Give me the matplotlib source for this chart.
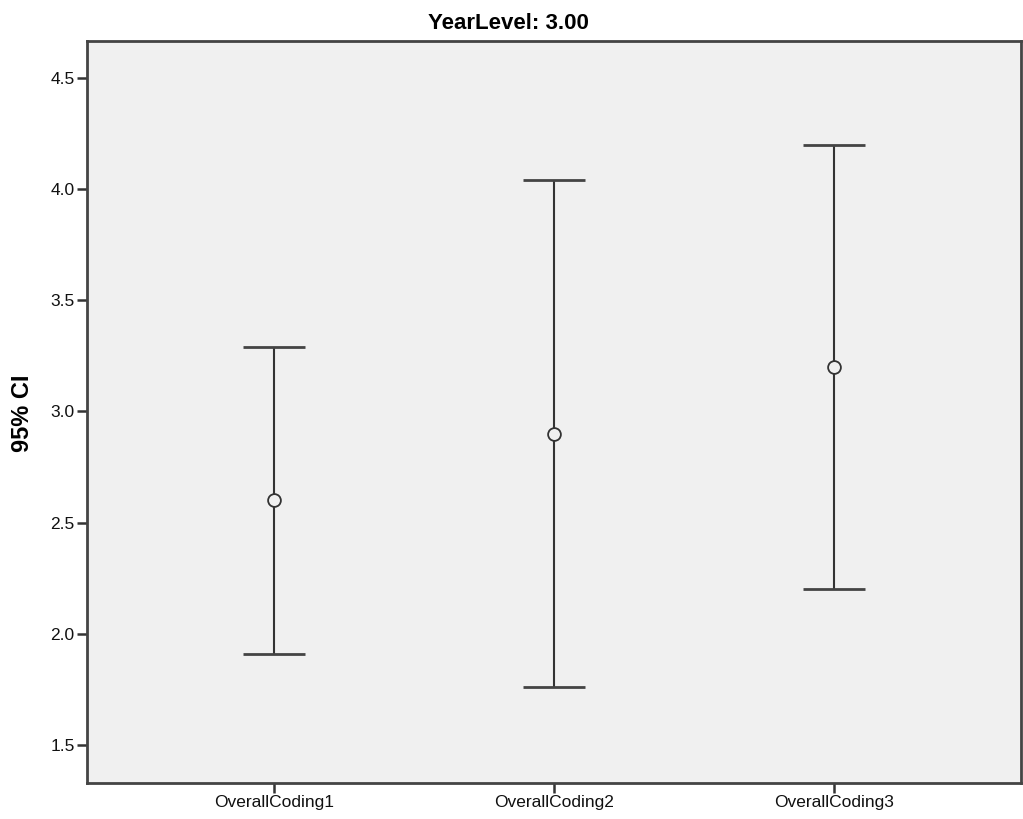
import matplotlib
matplotlib.use("Agg")
import matplotlib.pyplot as plt

categories = ["OverallCoding1", "OverallCoding2", "OverallCoding3"]
means = [2.60, 2.90, 3.20]
ci_lower = [1.91, 1.76, 2.20]
ci_upper = [3.29, 4.04, 4.20]
y_ticks = [1.5, 2.0, 2.5, 3.0, 3.5, 4.0, 4.5]

plt.rcParams["font.family"] = ["Liberation Sans", "DejaVu Sans"]

fig = plt.figure(figsize=(10.23, 8.19), dpi=100)
W, H = 1023, 819
ax = fig.add_axes([87 / W, 1 - 783 / H, (1021 - 87) / W, (783 - 41) / H])
ax.set_facecolor("#f0f0f0")

line_col = "#333333"
cap_half = 0.112
for i, (m, lo, hi) in enumerate(zip(means, ci_lower, ci_upper)):
    ax.plot([i, i], [lo, hi], color=line_col, lw=1.5, solid_capstyle="butt", zorder=2)
    ax.plot([i - cap_half, i + cap_half], [lo, lo], color="#444444", lw=2, solid_capstyle="butt", zorder=2)
    ax.plot([i - cap_half, i + cap_half], [hi, hi], color="#444444", lw=2, solid_capstyle="butt", zorder=2)
    ax.plot(i, m, marker="o", ms=9.2, mfc="#f0f0f0", mec=line_col, mew=1.3, zorder=3)

ax.set_xlim(-0.668, 2.668)
ax.set_ylim(1.329, 4.666)
ax.set_xticks(range(len(categories)))
ax.set_xticklabels(categories, fontsize=12.5, color="#111111")
ax.set_yticks(y_ticks)
ax.set_yticklabels([f"{v:.1f}" for v in y_ticks], fontsize=12.5, color="#111111")
ax.tick_params(axis="both", direction="out", length=7.5, width=1.8, color="#333333", pad=1.5)

for s in ax.spines.values():
    s.set_color("#444444")
    s.set_linewidth(2)

fig.text(22.5 / W, 1 - 413 / H, "95% CI", rotation=90, ha="center", va="center",
         fontsize=17, fontweight="bold")
fig.text(508 / W, 1 - 29 / H, "YearLevel: 3.00", ha="center", va="baseline",
         fontsize=16, fontweight="bold")

fig.savefig("out.png", dpi=100)
